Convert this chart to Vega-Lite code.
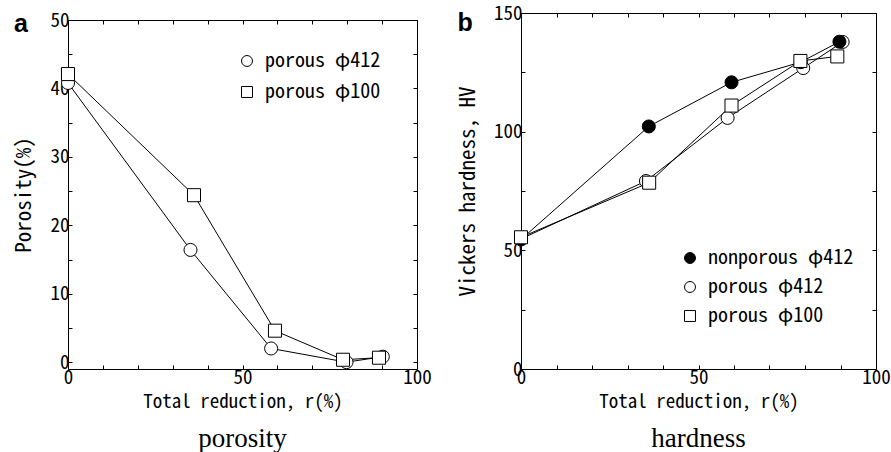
{
  "$schema": "https://vega.github.io/schema/vega-lite/v6.json",
  "padding": {"left": 13, "top": 4, "right": 0, "bottom": 0},
  "background": "white",
  "datasets": {
    "porosity": [
      {"series": "porous φ412", "r": 0, "value": 40.8},
      {"series": "porous φ412", "r": 35.1, "value": 16.4},
      {"series": "porous φ412", "r": 58.2, "value": 2.0},
      {"series": "porous φ412", "r": 79.8, "value": 0.0},
      {"series": "porous φ412", "r": 90.2, "value": 0.8},
      {"series": "porous φ100", "r": 0, "value": 42.1},
      {"series": "porous φ100", "r": 36.1, "value": 24.4},
      {"series": "porous φ100", "r": 59.3, "value": 4.6},
      {"series": "porous φ100", "r": 78.8, "value": 0.35},
      {"series": "porous φ100", "r": 89.1, "value": 0.65}
    ],
    "hardness": [
      {"series": "porous φ412", "r": 0, "value": 54.8},
      {"series": "porous φ412", "r": 35.2, "value": 79.2},
      {"series": "porous φ412", "r": 58.2, "value": 105.8},
      {"series": "porous φ412", "r": 79.5, "value": 126.8},
      {"series": "porous φ412", "r": 90.6, "value": 137.8},
      {"series": "nonporous φ412", "r": 0, "value": 54.6},
      {"series": "nonporous φ412", "r": 36.0, "value": 102.2},
      {"series": "nonporous φ412", "r": 59.3, "value": 120.8},
      {"series": "nonporous φ412", "r": 78.8, "value": 129.3},
      {"series": "nonporous φ412", "r": 89.7, "value": 137.9},
      {"series": "porous φ100", "r": 0, "value": 55.5},
      {"series": "porous φ100", "r": 36.1, "value": 78.5},
      {"series": "porous φ100", "r": 59.3, "value": 111.0},
      {"series": "porous φ100", "r": 78.7, "value": 129.8},
      {"series": "porous φ100", "r": 89.1, "value": 131.7}
    ]
  },
  "hconcat": [
    {
      "title": {"text": "a", "orient": "top", "anchor": "start", "frame": "bounds", "font": "Liberation Sans", "fontSize": 25, "fontWeight": "bold", "color": "black", "offset": 0, "dy": 26},
      "vconcat": [
        {
          "data": {"name": "porosity"},
          "width": 349,
          "height": 356,
          "title": {"text": "porosity", "orient": "bottom", "anchor": "middle", "frame": "group", "font": "Liberation Serif", "fontSize": 27, "fontWeight": "normal", "color": "black", "offset": 15},
          "layer": [
            {
              "mark": {"type": "line", "color": "black", "strokeWidth": 1},
              "encoding": {
                "x": {"field": "r", "type": "quantitative", "scale": {"domain": [0, 100], "nice": false},
                  "axis": {"orient": "bottom", "title": "Total reduction, r(%)", "values": [0, 10, 20, 30, 40, 50, 60, 70, 80, 90, 100], "labelExpr": "datum.value % 50 === 0 ? datum.label : ''", "titlePadding": 5}},
                "y": {"field": "value", "type": "quantitative", "scale": {"domain": [-1, 50], "range": [356, 7], "nice": false, "zero": false},
                  "axis": {"orient": "left", "title": "Porosity(%)", "titleFontSize": 21, "values": [0, 5, 10, 15, 20, 25, 30, 35, 40, 45, 50], "labelExpr": "datum.value % 10 === 0 ? datum.label : ''", "titlePadding": 15}},
                "detail": {"field": "series"}
              }
            },
            {
              "mark": {"type": "point", "filled": true, "strokeWidth": 1, "size": 170, "opacity": 1},
              "encoding": {
                "x": {"field": "r", "type": "quantitative", "scale": {"domain": [0, 100], "nice": false},
                  "axis": {"orient": "top", "offset": -7, "labels": false, "title": null, "values": [0, 10, 20, 30, 40, 50, 60, 70, 80, 90, 100]}},
                "y": {"field": "value", "type": "quantitative", "scale": {"domain": [-1, 50], "range": [356, 7], "nice": false, "zero": false},
                  "axis": {"orient": "right", "labels": false, "title": null, "values": [0, 5, 10, 15, 20, 25, 30, 35, 40, 45, 50]}},
                "shape": {"field": "series", "type": "nominal", "scale": {"domain": ["porous φ412", "porous φ100"], "range": ["circle", "square"]},
                  "legend": {"orient": "none", "legendX": 169, "legendY": 38, "title": null, "labelOffset": 8, "rowPadding": 11, "padding": 0}},
                "fill": {"field": "series", "type": "nominal", "scale": {"domain": ["porous φ412", "porous φ100"], "range": ["white", "white"]},
                  "legend": {"orient": "none", "legendX": 169, "legendY": 38, "title": null, "labelOffset": 8, "rowPadding": 11, "padding": 0}},
                "stroke": {"field": "series", "type": "nominal", "scale": {"domain": ["porous φ412", "porous φ100"], "range": ["black", "black"]},
                  "legend": {"orient": "none", "legendX": 169, "legendY": 38, "title": null, "labelOffset": 8, "rowPadding": 11, "padding": 0}}
              }
            }
          ],
          "resolve": {"axis": {"x": "independent", "y": "independent"}}
        }
      ]
    },
    {
      "title": {"text": "b", "orient": "top", "anchor": "start", "frame": "bounds", "font": "Liberation Sans", "fontSize": 25, "fontWeight": "bold", "color": "black", "offset": 0, "dy": 32},
      "vconcat": [
        {
          "data": {"name": "hardness"},
          "width": 355,
          "height": 356,
          "title": {"text": "hardness", "orient": "bottom", "anchor": "middle", "frame": "group", "font": "Liberation Serif", "fontSize": 27, "fontWeight": "normal", "color": "black", "offset": 15},
          "layer": [
            {
              "mark": {"type": "line", "color": "black", "strokeWidth": 1},
              "encoding": {
                "x": {"field": "r", "type": "quantitative", "scale": {"domain": [0, 100], "nice": false},
                  "axis": {"orient": "bottom", "title": "Total reduction, r(%)", "values": [0, 10, 20, 30, 40, 50, 60, 70, 80, 90, 100], "labelExpr": "datum.value % 50 === 0 ? datum.label : ''", "titlePadding": 5}},
                "y": {"field": "value", "type": "quantitative", "scale": {"domain": [0, 150], "nice": false},
                  "axis": {"orient": "left", "title": "Vickers hardness, HV", "titleFontSize": 21, "values": [0, 25, 50, 75, 100, 125, 150], "labelExpr": "datum.value % 50 === 0 ? datum.label : ''", "titlePadding": 15}},
                "detail": {"field": "series"}
              }
            },
            {
              "mark": {"type": "point", "filled": true, "strokeWidth": 1, "size": 170, "opacity": 1},
              "encoding": {
                "x": {"field": "r", "type": "quantitative", "scale": {"domain": [0, 100], "nice": false},
                  "axis": {"orient": "top", "labels": false, "title": null, "values": [0, 10, 20, 30, 40, 50, 60, 70, 80, 90, 100]}},
                "y": {"field": "value", "type": "quantitative", "scale": {"domain": [0, 150], "nice": false},
                  "axis": {"orient": "right", "labels": false, "title": null, "values": [0, 25, 50, 75, 100, 125, 150]}},
                "shape": {"field": "series", "type": "nominal", "scale": {"domain": ["nonporous φ412", "porous φ412", "porous φ100"], "range": ["circle", "circle", "square"]},
                  "legend": {"orient": "none", "legendX": 159, "legendY": 235, "title": null, "labelOffset": 8, "rowPadding": 9, "padding": 0}},
                "fill": {"field": "series", "type": "nominal", "scale": {"domain": ["nonporous φ412", "porous φ412", "porous φ100"], "range": ["black", "white", "white"]},
                  "legend": {"orient": "none", "legendX": 159, "legendY": 235, "title": null, "labelOffset": 8, "rowPadding": 9, "padding": 0}},
                "stroke": {"field": "series", "type": "nominal", "scale": {"domain": ["nonporous φ412", "porous φ412", "porous φ100"], "range": ["black", "black", "black"]},
                  "legend": {"orient": "none", "legendX": 159, "legendY": 235, "title": null, "labelOffset": 8, "rowPadding": 9, "padding": 0}}
              }
            }
          ],
          "resolve": {"axis": {"x": "independent", "y": "independent"}}
        }
      ]
    }
  ],
  "spacing": 25,
  "resolve": {"scale": {"shape": "independent", "fill": "independent", "stroke": "independent"}, "legend": {"shape": "independent", "fill": "independent", "stroke": "independent"}},
  "config": {
    "view": {"stroke": null},
    "axis": {
      "domain": true, "domainColor": "black", "domainWidth": 1, "grid": false, "ticks": true, "tickColor": "black", "tickSize": -4, "tickWidth": 1,
      "labelFont": "Noto Sans Mono CJK JP, DejaVu Sans Mono", "labelFontSize": 19, "labelColor": "black", "labelPadding": 3,
      "titleFont": "Noto Sans Mono CJK JP, DejaVu Sans Mono", "titleFontSize": 19, "titleFontWeight": "normal", "titleColor": "black",
      "labelFlush": false, "labelOverlap": false
    },
    "legend": {
      "labelFont": "Noto Sans Mono CJK JP, DejaVu Sans Mono", "labelFontSize": 20, "labelColor": "black",
      "symbolSize": 120, "symbolStrokeWidth": 1
    }
  }
}
